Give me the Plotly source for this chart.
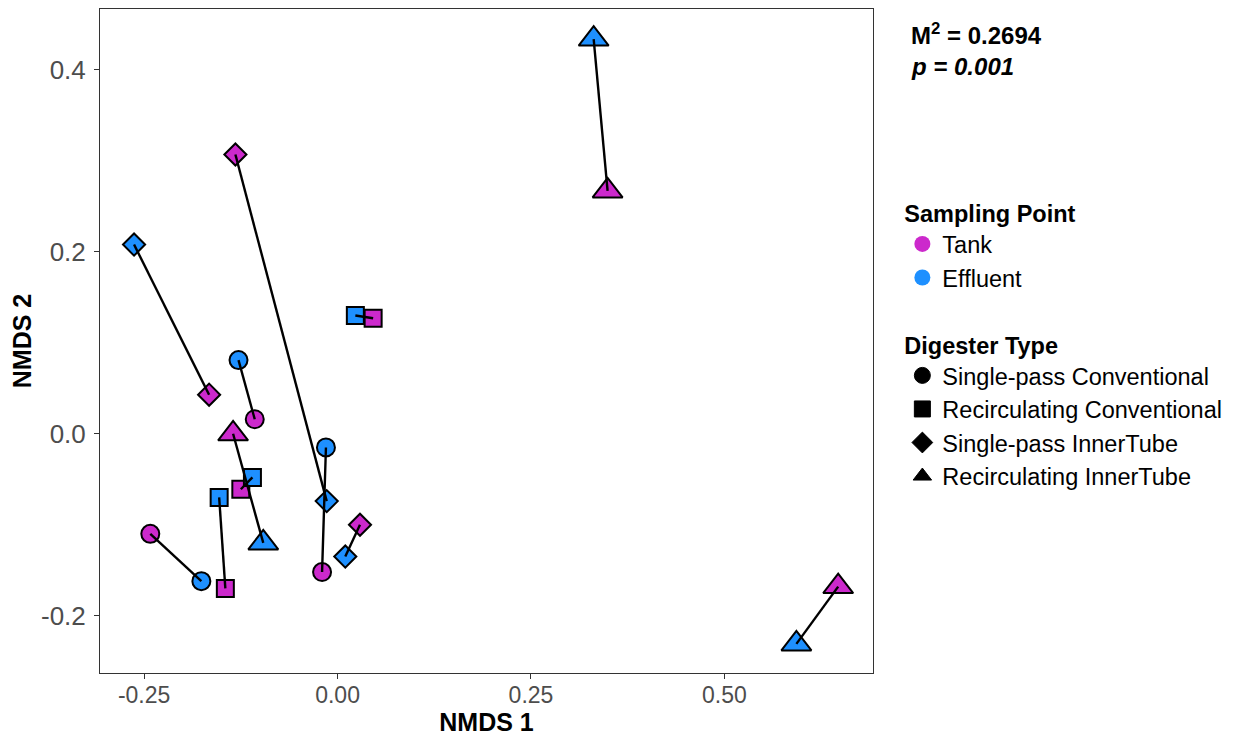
import plotly.graph_objects as go

# ---- data ----
digester = [
    "Recirculating InnerTube", "Recirculating InnerTube", "Single-pass InnerTube",
    "Single-pass InnerTube", "Recirculating Conventional", "Single-pass Conventional",
    "Recirculating InnerTube", "Recirculating Conventional", "Recirculating Conventional",
    "Single-pass Conventional", "Single-pass Conventional", "Single-pass InnerTube",
]
tank_x = [0.349, 0.647, -0.132, -0.166, 0.046, -0.107, -0.135, -0.125, -0.145, -0.242, -0.020, 0.029]
tank_y = [0.267, -0.168, 0.307, 0.043, 0.127, 0.016, 0.000, -0.061, -0.170, -0.110, -0.152, -0.100]
eff_x = [0.331, 0.593, -0.014, -0.263, 0.023, -0.128, -0.096, -0.110, -0.153, -0.176, -0.015, 0.010]
eff_y = [0.434, -0.231, -0.074, 0.208, 0.130, 0.081, -0.120, -0.048, -0.070, -0.162, -0.015, -0.135]

sampling_points = ["Tank", "Effluent"]
digester_types = ["Single-pass Conventional", "Recirculating Conventional",
                  "Single-pass InnerTube", "Recirculating InnerTube"]

x_ticks = [-0.25, 0.0, 0.25, 0.50]
x_tick_labels = ["-0.25", "0.00", "0.25", "0.50"]
y_ticks = [-0.2, 0.0, 0.2, 0.4]
y_tick_labels = ["-0.2", "0.0", "0.2", "0.4"]

# ---- styles ----
TANK = "#CC29CC"
EFF = "#1E90FF"
colors = {"Tank": TANK, "Effluent": EFF}
symbol_map = {
    "Single-pass Conventional": "circle",
    "Recirculating Conventional": "square",
    "Single-pass InnerTube": "diamond",
    "Recirculating InnerTube": "triangle-up",
}
size_map = {
    "Single-pass Conventional": 18,
    "Recirculating Conventional": 17,
    "Single-pass InnerTube": 17,
    "Recirculating InnerTube": 26,
}
FONT = "Liberation Sans, Arial, sans-serif"

fig = go.Figure()

# points
for name, xs, ys in [("Tank", tank_x, tank_y), ("Effluent", eff_x, eff_y)]:
    fig.add_trace(go.Scatter(
        x=xs, y=ys, mode="markers", showlegend=False, hoverinfo="skip",
        marker=dict(symbol=[symbol_map[d] for d in digester],
                    size=[size_map[d] for d in digester], opacity=1,
                    color=colors[name], line=dict(color="black", width=2)),
    ))

# connecting segments (drawn on top)
lx, ly = [], []
for i in range(len(digester)):
    lx += [tank_x[i], eff_x[i], None]
    ly += [tank_y[i], eff_y[i], None]
fig.add_trace(go.Scatter(x=lx, y=ly, mode="lines", showlegend=False, hoverinfo="skip",
                         line=dict(color="black", width=2.4)))

# legend 1: sampling point
for sp in sampling_points:
    fig.add_trace(go.Scatter(
        x=[None], y=[None], mode="markers", name=sp, legend="legend",
        marker=dict(symbol="circle", size=18, color=colors[sp], opacity=1, line=dict(width=0)),
    ))
# legend 2: digester type
for dt in digester_types:
    fig.add_trace(go.Scatter(
        x=[None], y=[None], mode="markers", name=dt, legend="legend2",
        marker=dict(symbol=symbol_map[dt], size=16, color="black", opacity=1,
                    line=dict(color="black", width=1)),
    ))

axis_common = dict(
    showgrid=False, zeroline=False, showline=True, mirror=True, automargin=False,
    linecolor="#333333", linewidth=1, ticks="outside", ticklen=5,
    tickcolor="#333333", tickwidth=1,
)

# the page body adds an 8px offset, so the figure is 8px smaller on each axis
fig.update_layout(
    width=1235, height=730,
    margin=dict(l=92, r=370, t=1, b=65, autoexpand=False),
    plot_bgcolor="white", paper_bgcolor="white",
    font=dict(family=FONT, color="black"),
    xaxis=dict(range=[-0.307, 0.692], tickvals=x_ticks, ticktext=x_tick_labels,
               tickfont=dict(size=23, color="#4D4D4D"), ticklabelstandoff=-4,
               title=dict(text="<b>NMDS 1</b>", font=dict(size=25, color="black"), standoff=4),
               **axis_common),
    yaxis=dict(range=[-0.263, 0.467], tickvals=y_ticks, ticktext=y_tick_labels,
               tickfont=dict(size=26, color="#4D4D4D"), ticklabelstandoff=3,
               title=dict(text="<b>NMDS 2</b>", font=dict(size=25, color="black"), standoff=7),
               **axis_common),
    legend=dict(title=dict(text="<b>Sampling Point</b>", font=dict(size=23.5)),
                x=1.038, y=0.725, xanchor="left", yanchor="top",
                font=dict(size=23.5), bgcolor="rgba(0,0,0,0)", itemwidth=30),
    legend2=dict(title=dict(text="<b>Digester Type</b>", font=dict(size=23.5)),
                 x=1.038, y=0.527, xanchor="left", yanchor="top",
                 font=dict(size=23.5), bgcolor="rgba(0,0,0,0)", itemwidth=30),
    annotations=[
        dict(text="<b>M<sup>2</sup> = 0.2694</b>", xref="paper", yref="paper",
             x=1.047, y=0.962, xanchor="left", yanchor="middle", showarrow=False,
             font=dict(size=24, color="black")),
        dict(text="<b><i>p = 0.001</i></b>", xref="paper", yref="paper",
             x=1.047, y=0.914, xanchor="left", yanchor="middle", showarrow=False,
             font=dict(size=24, color="black")),
    ],
)

fig.write_html("out.html")
